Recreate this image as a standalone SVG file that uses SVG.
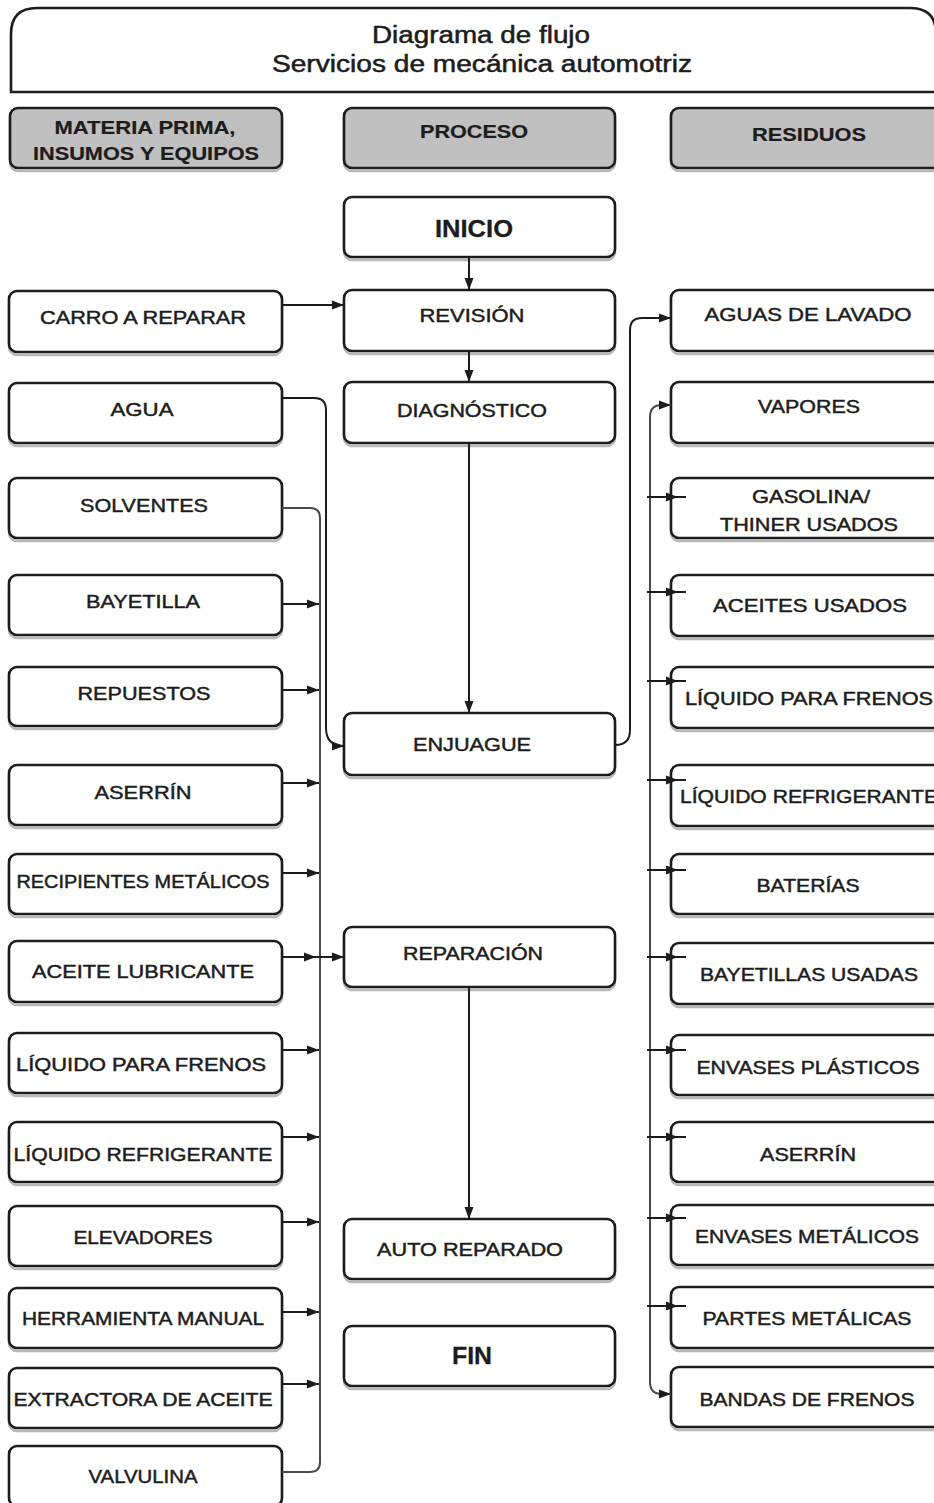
<svg xmlns="http://www.w3.org/2000/svg" width="934" height="1503" viewBox="0 0 934 1503">
  <style>
    .box { fill: #ffffff; stroke: #1c1c1c; stroke-width: 2.6; }
    .hdr { fill: #c0c0c0; stroke: #1c1c1c; stroke-width: 2.6; }
    .sh { fill: none; stroke: #b8b8b8; stroke-width: 2.5; }
    .t { font-family: "Liberation Sans", Arial, sans-serif; font-size: 18px; fill: #1c1c1c; stroke: #1c1c1c; stroke-width: 0.45; text-anchor: middle; }
    .b { font-weight: bold; stroke-width: 0.2; }
    .big { font-size: 24px; font-weight: bold; stroke-width: 0.3; }
    .ttl { font-size: 23px; stroke-width: 0.5; }
    .ln { fill: none; stroke: #1c1c1c; stroke-width: 2; }
    .bus { fill: none; stroke: #4a4a4a; stroke-width: 2; }
  </style>
  <defs>
    <marker id="ah" viewBox="0 0 12 12" refX="12" refY="6" markerWidth="12" markerHeight="12" markerUnits="userSpaceOnUse" orient="auto">
      <path d="M0,1.5 L12,6 L0,10.5 Z" fill="#1c1c1c"/>
    </marker>
  </defs>

  <!-- Title -->
  <g id="title">
    <path class="box" d="M11,92 V34 Q11,8 37,8 H910 Q936,8 936,34 V92 Z"/>
    <text class="t ttl" x="481" y="43" textLength="218" lengthAdjust="spacingAndGlyphs">Diagrama de flujo</text>
    <text class="t ttl" x="482" y="72" textLength="420" lengthAdjust="spacingAndGlyphs">Servicios de mecánica automotriz</text>
  </g>

  <!-- Column headers -->
  <g id="hdr-materia">
    <rect class="sh" x="10" y="111" width="272" height="60" rx="8"/>
    <rect class="hdr" x="10" y="108" width="272" height="60" rx="8"/>
    <text class="t b" x="145" y="134" textLength="181" lengthAdjust="spacingAndGlyphs">MATERIA PRIMA,</text>
    <text class="t b" x="146" y="160" textLength="226" lengthAdjust="spacingAndGlyphs">INSUMOS Y EQUIPOS</text>
  </g>
  <g id="hdr-proceso">
    <rect class="sh" x="344" y="111" width="271" height="60" rx="8"/>
    <rect class="hdr" x="344" y="108" width="271" height="60" rx="8"/>
    <text class="t b" x="474" y="138" textLength="108" lengthAdjust="spacingAndGlyphs">PROCESO</text>
  </g>
  <g id="hdr-residuos">
    <rect class="sh" x="671" y="111" width="280" height="60" rx="8"/>
    <rect class="hdr" x="671" y="108" width="280" height="60" rx="8"/>
    <text class="t b" x="809" y="141" textLength="114" lengthAdjust="spacingAndGlyphs">RESIDUOS</text>
  </g>

  <!-- Process column -->
  <g id="inicio">
    <rect class="sh" x="344" y="200" width="271" height="60" rx="8"/>
    <rect class="box" x="344" y="197" width="271" height="60" rx="8"/>
    <text class="t big" x="474" y="237" textLength="78" lengthAdjust="spacingAndGlyphs">INICIO</text>
  </g>
  <g id="revision">
    <rect class="sh" x="344" y="293" width="271" height="61" rx="8"/>
    <rect class="box" x="344" y="290" width="271" height="61" rx="8"/>
    <text class="t" x="472" y="322" textLength="105" lengthAdjust="spacingAndGlyphs">REVISIÓN</text>
  </g>
  <g id="diagnostico">
    <rect class="sh" x="344" y="385" width="271" height="61" rx="8"/>
    <rect class="box" x="344" y="382" width="271" height="61" rx="8"/>
    <text class="t" x="472" y="417" textLength="150" lengthAdjust="spacingAndGlyphs">DIAGNÓSTICO</text>
  </g>
  <g id="enjuague">
    <rect class="sh" x="344" y="716" width="271" height="62" rx="8"/>
    <rect class="box" x="344" y="713" width="271" height="62" rx="8"/>
    <text class="t" x="472" y="751" textLength="118" lengthAdjust="spacingAndGlyphs">ENJUAGUE</text>
  </g>
  <g id="reparacion">
    <rect class="sh" x="344" y="930" width="271" height="60" rx="8"/>
    <rect class="box" x="344" y="927" width="271" height="60" rx="8"/>
    <text class="t" x="473" y="960" textLength="140" lengthAdjust="spacingAndGlyphs">REPARACIÓN</text>
  </g>
  <g id="auto-reparado">
    <rect class="sh" x="344" y="1222" width="271" height="60" rx="8"/>
    <rect class="box" x="344" y="1219" width="271" height="60" rx="8"/>
    <text class="t" x="470" y="1256" textLength="186" lengthAdjust="spacingAndGlyphs">AUTO REPARADO</text>
  </g>
  <g id="fin">
    <rect class="sh" x="344" y="1329" width="271" height="60" rx="8"/>
    <rect class="box" x="344" y="1326" width="271" height="60" rx="8"/>
    <text class="t big" x="472" y="1364" textLength="40" lengthAdjust="spacingAndGlyphs">FIN</text>
  </g>

  <!-- Inputs column -->
  <g id="in-carro">
    <rect class="sh" x="9" y="294" width="273" height="61" rx="8"/>
    <rect class="box" x="9" y="291" width="273" height="61" rx="8"/>
    <text class="t" x="143" y="324" textLength="206" lengthAdjust="spacingAndGlyphs">CARRO A REPARAR</text>
  </g>
  <g id="in-agua">
    <rect class="sh" x="9" y="386" width="273" height="60" rx="8"/>
    <rect class="box" x="9" y="383" width="273" height="60" rx="8"/>
    <text class="t" x="142" y="416" textLength="63" lengthAdjust="spacingAndGlyphs">AGUA</text>
  </g>
  <g id="in-solventes">
    <rect class="sh" x="9" y="481" width="273" height="60" rx="8"/>
    <rect class="box" x="9" y="478" width="273" height="60" rx="8"/>
    <text class="t" x="144" y="512" textLength="128" lengthAdjust="spacingAndGlyphs">SOLVENTES</text>
  </g>
  <g id="in-bayetilla">
    <rect class="sh" x="9" y="578" width="273" height="60" rx="8"/>
    <rect class="box" x="9" y="575" width="273" height="60" rx="8"/>
    <text class="t" x="143" y="608" textLength="114" lengthAdjust="spacingAndGlyphs">BAYETILLA</text>
  </g>
  <g id="in-repuestos">
    <rect class="sh" x="9" y="670" width="273" height="59" rx="8"/>
    <rect class="box" x="9" y="667" width="273" height="59" rx="8"/>
    <text class="t" x="144" y="700" textLength="133" lengthAdjust="spacingAndGlyphs">REPUESTOS</text>
  </g>
  <g id="in-aserrin">
    <rect class="sh" x="9" y="768" width="273" height="60" rx="8"/>
    <rect class="box" x="9" y="765" width="273" height="60" rx="8"/>
    <text class="t" x="143" y="799" textLength="97" lengthAdjust="spacingAndGlyphs">ASERRÍN</text>
  </g>
  <g id="in-recipientes">
    <rect class="sh" x="9" y="857" width="273" height="60" rx="8"/>
    <rect class="box" x="9" y="854" width="273" height="60" rx="8"/>
    <text class="t" x="143" y="888" textLength="253" lengthAdjust="spacingAndGlyphs">RECIPIENTES METÁLICOS</text>
  </g>
  <g id="in-aceite">
    <rect class="sh" x="9" y="944" width="273" height="61" rx="8"/>
    <rect class="box" x="9" y="941" width="273" height="61" rx="8"/>
    <text class="t" x="143" y="978" textLength="222" lengthAdjust="spacingAndGlyphs">ACEITE LUBRICANTE</text>
  </g>
  <g id="in-liq-frenos">
    <rect class="sh" x="9" y="1036" width="273" height="60" rx="8"/>
    <rect class="box" x="9" y="1033" width="273" height="60" rx="8"/>
    <text class="t" x="141" y="1071" textLength="250" lengthAdjust="spacingAndGlyphs">LÍQUIDO PARA FRENOS</text>
  </g>
  <g id="in-liq-refrig">
    <rect class="sh" x="9" y="1125" width="273" height="60" rx="8"/>
    <rect class="box" x="9" y="1122" width="273" height="60" rx="8"/>
    <text class="t" x="143" y="1161" textLength="259" lengthAdjust="spacingAndGlyphs">LÍQUIDO REFRIGERANTE</text>
  </g>
  <g id="in-elevadores">
    <rect class="sh" x="9" y="1209" width="273" height="60" rx="8"/>
    <rect class="box" x="9" y="1206" width="273" height="60" rx="8"/>
    <text class="t" x="143" y="1244" textLength="139" lengthAdjust="spacingAndGlyphs">ELEVADORES</text>
  </g>
  <g id="in-herramienta">
    <rect class="sh" x="9" y="1291" width="273" height="60" rx="8"/>
    <rect class="box" x="9" y="1288" width="273" height="60" rx="8"/>
    <text class="t" x="143" y="1325" textLength="242" lengthAdjust="spacingAndGlyphs">HERRAMIENTA MANUAL</text>
  </g>
  <g id="in-extractora">
    <rect class="sh" x="9" y="1371" width="273" height="60" rx="8"/>
    <rect class="box" x="9" y="1368" width="273" height="60" rx="8"/>
    <text class="t" x="143" y="1406" textLength="259" lengthAdjust="spacingAndGlyphs">EXTRACTORA DE ACEITE</text>
  </g>
  <g id="in-valvulina">
    <rect class="box" x="9" y="1446" width="273" height="60" rx="8"/>
    <text class="t" x="143" y="1483" textLength="109" lengthAdjust="spacingAndGlyphs">VALVULINA</text>
  </g>

  <!-- Waste column -->
  <g id="out-aguas">
    <rect class="sh" x="671" y="293" width="280" height="61" rx="8"/>
    <rect class="box" x="671" y="290" width="280" height="61" rx="8"/>
    <text class="t" x="808" y="321" textLength="207" lengthAdjust="spacingAndGlyphs">AGUAS DE LAVADO</text>
  </g>
  <g id="out-vapores">
    <rect class="sh" x="671" y="385" width="280" height="61" rx="8"/>
    <rect class="box" x="671" y="382" width="280" height="61" rx="8"/>
    <text class="t" x="809" y="413" textLength="102" lengthAdjust="spacingAndGlyphs">VAPORES</text>
  </g>
  <g id="out-gasolina">
    <rect class="sh" x="671" y="481" width="280" height="60" rx="8"/>
    <rect class="box" x="671" y="478" width="280" height="60" rx="8"/>
    <text class="t" x="811" y="503" textLength="118" lengthAdjust="spacingAndGlyphs">GASOLINA/</text>
    <text class="t" x="809" y="531" textLength="178" lengthAdjust="spacingAndGlyphs">THINER USADOS</text>
  </g>
  <g id="out-aceites">
    <rect class="sh" x="671" y="578" width="280" height="61" rx="8"/>
    <rect class="box" x="671" y="575" width="280" height="61" rx="8"/>
    <text class="t" x="810" y="612" textLength="194" lengthAdjust="spacingAndGlyphs">ACEITES USADOS</text>
  </g>
  <g id="out-liq-frenos">
    <rect class="sh" x="671" y="670" width="280" height="61" rx="8"/>
    <rect class="box" x="671" y="667" width="280" height="61" rx="8"/>
    <text class="t" x="809" y="705" textLength="248" lengthAdjust="spacingAndGlyphs">LÍQUIDO PARA FRENOS</text>
  </g>
  <g id="out-liq-refrig">
    <rect class="sh" x="671" y="768" width="280" height="61" rx="8"/>
    <rect class="box" x="671" y="765" width="280" height="61" rx="8"/>
    <text class="t" x="809" y="803" textLength="258" lengthAdjust="spacingAndGlyphs">LÍQUIDO REFRIGERANTE</text>
  </g>
  <g id="out-baterias">
    <rect class="sh" x="671" y="857" width="280" height="60" rx="8"/>
    <rect class="box" x="671" y="854" width="280" height="60" rx="8"/>
    <text class="t" x="808" y="892" textLength="103" lengthAdjust="spacingAndGlyphs">BATERÍAS</text>
  </g>
  <g id="out-bayetillas">
    <rect class="sh" x="671" y="946" width="280" height="61" rx="8"/>
    <rect class="box" x="671" y="943" width="280" height="61" rx="8"/>
    <text class="t" x="809" y="981" textLength="218" lengthAdjust="spacingAndGlyphs">BAYETILLAS USADAS</text>
  </g>
  <g id="out-envases-plasticos">
    <rect class="sh" x="671" y="1038" width="280" height="60" rx="8"/>
    <rect class="box" x="671" y="1035" width="280" height="60" rx="8"/>
    <text class="t" x="808" y="1074" textLength="223" lengthAdjust="spacingAndGlyphs">ENVASES PLÁSTICOS</text>
  </g>
  <g id="out-aserrin">
    <rect class="sh" x="671" y="1125" width="280" height="60" rx="8"/>
    <rect class="box" x="671" y="1122" width="280" height="60" rx="8"/>
    <text class="t" x="808" y="1161" textLength="96" lengthAdjust="spacingAndGlyphs">ASERRÍN</text>
  </g>
  <g id="out-envases-metalicos">
    <rect class="sh" x="671" y="1208" width="280" height="60" rx="8"/>
    <rect class="box" x="671" y="1205" width="280" height="60" rx="8"/>
    <text class="t" x="807" y="1243" textLength="224" lengthAdjust="spacingAndGlyphs">ENVASES METÁLICOS</text>
  </g>
  <g id="out-partes">
    <rect class="sh" x="671" y="1290" width="280" height="61" rx="8"/>
    <rect class="box" x="671" y="1287" width="280" height="61" rx="8"/>
    <text class="t" x="807" y="1325" textLength="209" lengthAdjust="spacingAndGlyphs">PARTES METÁLICAS</text>
  </g>
  <g id="out-bandas">
    <rect class="sh" x="671" y="1370" width="280" height="60" rx="8"/>
    <rect class="box" x="671" y="1367" width="280" height="60" rx="8"/>
    <text class="t" x="807" y="1406" textLength="215" lengthAdjust="spacingAndGlyphs">BANDAS DE FRENOS</text>
  </g>

  <!-- Connectors -->
  <g id="connectors">
    <!-- main process flow -->
    <path class="ln" d="M469,258 V290" marker-end="url(#ah)"/>
    <path class="ln" d="M469,352 V382" marker-end="url(#ah)"/>
    <path class="ln" d="M469,444 V713" marker-end="url(#ah)"/>
    <path class="ln" d="M469,988 V1219" marker-end="url(#ah)"/>

    <!-- car enters inspection -->
    <path class="ln" d="M282,305 H344" marker-end="url(#ah)"/>

    <!-- water to rinse -->
    <path class="ln" d="M282,398 H314 Q326,398 326,410 V728 Q326,746 344,746" marker-end="url(#ah)"/>

    <!-- supplies collector (solvents to valvulina) -->
    <path class="bus" d="M282,508 H310 Q320,508 320,518 V1462 Q320,1472 310,1472 H282"/>
    <path class="ln" d="M282,604 H319" marker-end="url(#ah)"/>
    <path class="ln" d="M282,690 H319" marker-end="url(#ah)"/>
    <path class="ln" d="M282,783 H319" marker-end="url(#ah)"/>
    <path class="ln" d="M282,873 H319" marker-end="url(#ah)"/>
    <path class="ln" d="M282,957 L316,957 L344,957" marker-mid="url(#ah)" marker-end="url(#ah)"/>
    <path class="ln" d="M282,1050 H319" marker-end="url(#ah)"/>
    <path class="ln" d="M282,1137 H319" marker-end="url(#ah)"/>
    <path class="ln" d="M282,1222 H319" marker-end="url(#ah)"/>
    <path class="ln" d="M282,1312 H319" marker-end="url(#ah)"/>
    <path class="ln" d="M282,1384 H319" marker-end="url(#ah)"/>

    <!-- rinse to washing water -->
    <path class="ln" d="M615,745 Q630,745 630,730 V330 Q630,318 642,318 H671" marker-end="url(#ah)"/>

    <!-- waste collector -->
    <path class="bus" d="M650,1382 V417 Q650,405 662,405 H671" marker-end="url(#ah)"/>
    <path class="bus" d="M650,1382 Q650,1394 662,1394 H671" marker-end="url(#ah)"/>
    <path class="ln" d="M647,497 L678,497 L686,497" marker-mid="url(#ah)"/>
    <path class="ln" d="M647,592 L678,592 L686,592" marker-mid="url(#ah)"/>
    <path class="ln" d="M647,681 L678,681 L686,681" marker-mid="url(#ah)"/>
    <path class="ln" d="M647,780 L678,780 L686,780" marker-mid="url(#ah)"/>
    <path class="ln" d="M647,870 L678,870 L686,870" marker-mid="url(#ah)"/>
    <path class="ln" d="M647,957 L678,957 L686,957" marker-mid="url(#ah)"/>
    <path class="ln" d="M647,1050 L678,1050 L686,1050" marker-mid="url(#ah)"/>
    <path class="ln" d="M647,1137 L678,1137 L686,1137" marker-mid="url(#ah)"/>
    <path class="ln" d="M647,1218 L678,1218 L686,1218" marker-mid="url(#ah)"/>
    <path class="ln" d="M647,1306 L678,1306 L686,1306" marker-mid="url(#ah)"/>
  </g>
</svg>
